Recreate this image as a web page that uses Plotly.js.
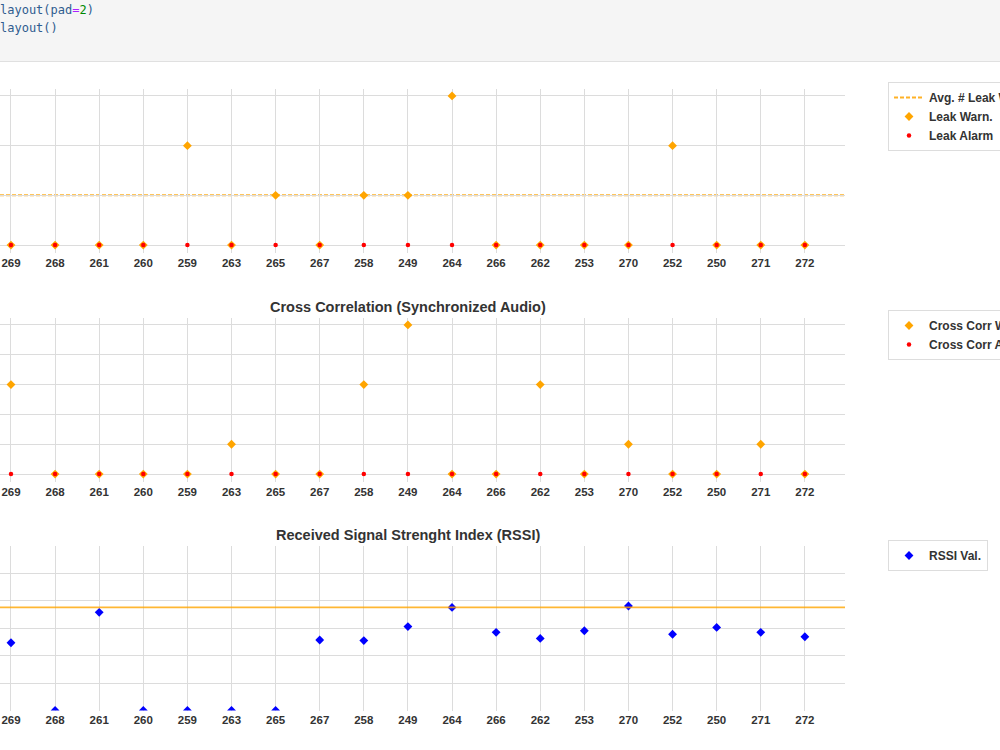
<!DOCTYPE html>
<html>
<head>
<meta charset="utf-8">
<script src="https://cdn.plot.ly/plotly-3.0.1.min.js"></script>
<style>
  html, body { margin:0; padding:0; width:1000px; height:750px; overflow:hidden; background:#fff; }
  #hdr { position:absolute; left:0; top:0; width:1000px; height:60px; background:#f5f5f5;
         border-bottom:1px solid #e0e0e0; z-index:5; font-family:'DejaVu Sans Mono', monospace;
         font-size:12px; line-height:18px; color:#2f5c8f; padding-top:1px; box-sizing:content-box; }
  #hdr div { white-space:pre; }
  #chart { position:absolute; left:0; top:0; width:1100px; height:750px; }
</style>
</head>
<body>
<div id="hdr"><div>layout(pad<span style="color:#aa22ff">=</span><span style="color:#008800">2</span>)</div><div>layout()</div></div>
<div id="chart"></div>
<script>
// ---- data ----
const stations = ['269','268','261','260','259','263','265','267','258','249','264','266','262','253','270','252','250','271','272'];
const leakWarn  = [0,0,0,0,2,0,1,0,1,1,3,0,0,0,0,2,0,0,0];
const leakAlarm = [0,0,0,0,0,0,0,0,0,0,0,0,0,0,0,0,0,0,0];
const leakWarnAvg = 1;
const ccWarn  = [3,0,0,0,0,1,0,0,3,5,0,0,3,0,1,0,0,1,0];
const ccAlarm = [0,0,0,0,0,0,0,0,0,0,0,0,0,0,0,0,0,0,0];
const rssi = [-75.3,-100,-64.2,-100,-100,-100,-100,-74.3,-74.5,-69.4,-62.4,-71.5,-73.7,-70.9,-61.9,-72.2,-69.7,-71.5,-73.1];
const rssiRef = -62.4;
const titles = ['Cross Correlation (Synchronized Audio)', 'Received Signal Strenght Index (RSSI)'];
const legendNames = ['Avg. # Leak Warn.', 'Leak Warn.', 'Leak Alarm', 'Cross Corr Warn.', 'Cross Corr Alarm', 'RSSI Val.'];

// ---- styling ----
const W = 1100, H = 750;
const FONT = 'Liberation Sans, Arial, sans-serif';
const GRID = '#dcdcdc';
const ORANGE = '#FFA500';
const px = v => v / W;
const py = v => 1 - v / H;

const xRange = [-0.249, 18.91];
const xDom = [0, px(845)];

function xax(anchor, standoff) {
  return {
    type: 'category', categoryorder: 'array', categoryarray: stations,
    range: xRange, domain: xDom, anchor: anchor,
    showgrid: true, gridcolor: GRID, gridwidth: 1, zeroline: false, showline: false,
    ticks: '', ticklabelstandoff: standoff,
    tickfont: {family: FONT, size: 11.5, color: '#333', weight: 700},
    fixedrange: true
  };
}
function yax(dom, range, dtick) {
  return {
    domain: dom, range: range, dtick: dtick, tick0: 0,
    showgrid: true, gridcolor: GRID, gridwidth: 1, zeroline: false, showline: false,
    showticklabels: false, ticks: '', fixedrange: true
  };
}

const diamond = (c) => ({symbol: 'diamond', size: 6.8, color: c, line: {width: 0}});
const dot = {symbol: 'circle', size: 4.5, color: '#FF0000', line: {width: 0}};

const traces = [
  {x: stations, y: leakWarn, type: 'scatter', mode: 'markers', name: legendNames[1],
   marker: diamond(ORANGE), xaxis: 'x', yaxis: 'y', legend: 'legend', legendrank: 2, cliponaxis: true},
  {x: stations, y: leakAlarm, type: 'scatter', mode: 'markers', name: legendNames[2],
   marker: dot, xaxis: 'x', yaxis: 'y', legend: 'legend', legendrank: 3, cliponaxis: true},
  {x: stations, y: ccWarn, type: 'scatter', mode: 'markers', name: legendNames[3],
   marker: diamond(ORANGE), xaxis: 'x2', yaxis: 'y2', legend: 'legend2', cliponaxis: true},
  {x: stations, y: ccAlarm, type: 'scatter', mode: 'markers', name: legendNames[4],
   marker: dot, xaxis: 'x2', yaxis: 'y2', legend: 'legend2', cliponaxis: true},
  {x: stations, y: rssi, type: 'scatter', mode: 'markers', name: legendNames[5],
   marker: diamond('#0000FF'), xaxis: 'x3', yaxis: 'y3', legend: 'legend3', cliponaxis: true}
];

function legendAt(top) {
  return {
    x: px(888), y: py(top), xanchor: 'left', yanchor: 'top',
    bgcolor: '#ffffff', bordercolor: '#dddddd', borderwidth: 1,
    font: {family: FONT, size: 12, color: '#333', weight: 700},
    tracegroupgap: 0
  };
}

const layout = {
  width: W, height: H,
  margin: {l: 0, r: 0, t: 0, b: 0, pad: 0},
  paper_bgcolor: '#ffffff', plot_bgcolor: '#ffffff',
  showlegend: true,
  xaxis: xax('y', 2), yaxis: yax([py(252.5), py(88.5)], [-0.15, 3.15], 1),
  xaxis2: xax('y2', 2), yaxis2: yax([py(481.5), py(317.5)], [-0.25, 5.25], 1),
  xaxis3: xax('y3', 1), yaxis3: Object.assign(yax([py(710.5), py(546)], [-100, -40], 10), {tick0: -100}),
  legend: legendAt(82), legend2: legendAt(310), legend3: legendAt(540),
  shapes: [
    {type: 'line', xref: 'x domain', yref: 'y', x0: 0, x1: 1, y0: leakWarnAvg, y1: leakWarnAvg,
     line: {color: 'rgba(255,165,0,0.85)', width: 2, dash: '4px,2px'}, layer: 'below',
     showlegend: true, legend: 'legend', name: legendNames[0], legendrank: 1},
    {type: 'line', xref: 'x3 domain', yref: 'y3', x0: 0, x1: 1, y0: rssiRef, y1: rssiRef,
     line: {color: 'rgba(255,165,0,0.8)', width: 1.8}, layer: 'above'}
  ],
  annotations: [
    {text: titles[0], xref: 'paper', yref: 'paper', x: px(408), y: py(307), xanchor: 'center', yanchor: 'middle',
     showarrow: false, font: {family: FONT, size: 14.5, color: '#333', weight: 700}},
    {text: titles[1], xref: 'paper', yref: 'paper', x: px(408), y: py(535), xanchor: 'center', yanchor: 'middle',
     showarrow: false, font: {family: FONT, size: 14.5, color: '#333', weight: 700}}
  ]
};

Plotly.newPlot('chart', traces, layout, {displayModeBar: false, staticPlot: true});
</script>
</body>
</html>
